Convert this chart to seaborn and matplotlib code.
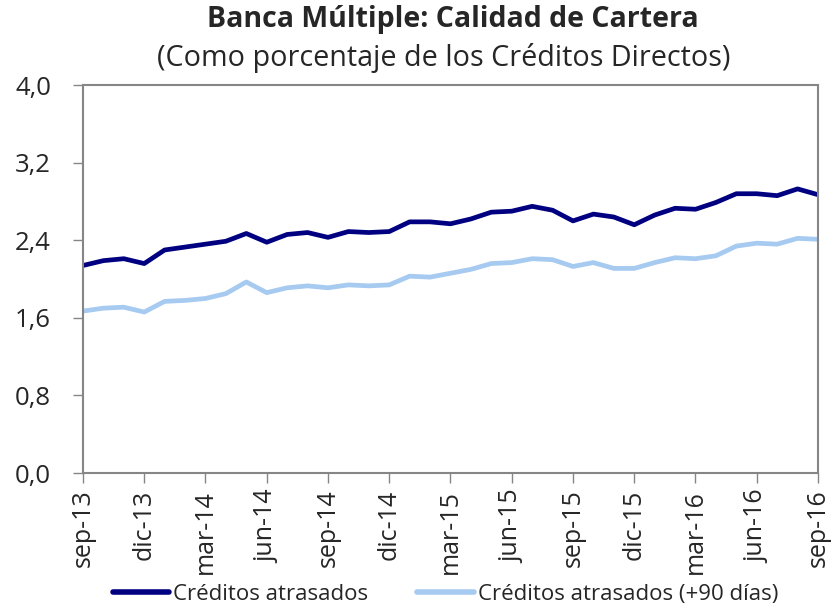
import matplotlib
matplotlib.use("Agg")
import matplotlib.pyplot as plt
import seaborn as sns
import pandas as pd
import numpy as np

months = ["sep-13", "oct-13", "nov-13", "dic-13", "ene-14", "feb-14", "mar-14", "abr-14", "may-14",
          "jun-14", "jul-14", "ago-14", "sep-14", "oct-14", "nov-14", "dic-14", "ene-15", "feb-15",
          "mar-15", "abr-15", "may-15", "jun-15", "jul-15", "ago-15", "sep-15", "oct-15", "nov-15",
          "dic-15", "ene-16", "feb-16", "mar-16", "abr-16", "may-16", "jun-16", "jul-16", "ago-16",
          "sep-16"]

atrasados = [2.14, 2.19, 2.21, 2.16, 2.30, 2.33, 2.36, 2.39, 2.47, 2.38, 2.46, 2.48, 2.43,
             2.49, 2.48, 2.49, 2.59, 2.59, 2.57, 2.62, 2.69, 2.70, 2.75, 2.71, 2.60, 2.67,
             2.64, 2.56, 2.66, 2.73, 2.72, 2.79, 2.88, 2.88, 2.86, 2.93, 2.87]

atrasados_90 = [1.67, 1.70, 1.71, 1.66, 1.77, 1.78, 1.80, 1.85, 1.97, 1.86, 1.91, 1.93, 1.91,
                1.94, 1.93, 1.94, 2.03, 2.02, 2.06, 2.10, 2.16, 2.17, 2.21, 2.20, 2.13, 2.17,
                2.11, 2.11, 2.17, 2.22, 2.21, 2.24, 2.34, 2.37, 2.36, 2.42, 2.41]

yticks = [0.0, 0.8, 1.6, 2.4, 3.2, 4.0]
ytick_labels = ["0,0", "0,8", "1,6", "2,4", "3,2", "4,0"]

series_names = ["Créditos atrasados", "Créditos atrasados (+90 días)"]
colors = ["#000080", "#A6CAF0"]

sns.set_style("white")
plt.rcParams["font.family"] = ["Open Sans", "DejaVu Sans"]

n = len(months)
df = pd.DataFrame({
    "idx": list(range(n)) * 2,
    "valor": atrasados + atrasados_90,
    "serie": [series_names[0]] * n + [series_names[1]] * n,
})

fig = plt.figure(figsize=(8.33, 6.08), dpi=100)
ax = fig.add_axes([0.0996, 0.222, 0.8824, 0.638])

sns.lineplot(data=df, x="idx", y="valor", hue="serie", palette=colors,
             linewidth=3.4, ax=ax, legend=True)

ax.set_xlim(0, n - 1)
ax.set_ylim(0, 4.0)
ax.set_yticks(yticks)
ax.set_yticklabels(ytick_labels, fontsize=18.5)
xt = list(range(0, n, 3))
ax.set_xticks(xt)
ax.set_xticklabels([months[i] for i in xt], rotation=90, fontsize=18)
ax.set_xlabel("")
ax.set_ylabel("")

for s in ax.spines.values():
    s.set_color("#868686")
    s.set_linewidth(1.5)
ax.tick_params(axis="y", which="both", direction="out", length=7, width=1,
               color="#868686", left=True, pad=16)
ax.tick_params(axis="x", which="both", direction="out", length=7, width=1,
               color="#868686", bottom=True, pad=5)

fig.text(0.543, 0.968, "Banca Múltiple: Calidad de Cartera", ha="center", va="center",
         fontsize=20.5, fontweight="bold")
fig.text(0.533, 0.905, "(Como porcentaje de los Créditos Directos)", ha="center", va="center",
         fontsize=20.7)

handles, labels = ax.get_legend_handles_labels()
ax.get_legend().remove()
leg = fig.legend(handles, labels, loc="center", bbox_to_anchor=(0.535, 0.022),
                 ncol=2, frameon=False, fontsize=16, handlelength=2.55, handletextpad=0.18,
                 columnspacing=2.2, borderaxespad=0, borderpad=0)
for line in leg.get_lines():
    line.set_linewidth(4)

fig.savefig("out.png", dpi=100)
